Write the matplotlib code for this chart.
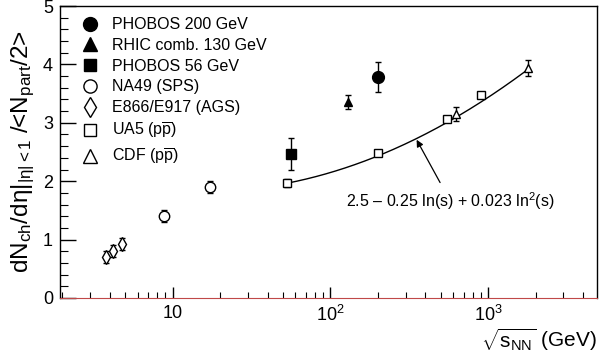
"""dN/deta per participant pair vs sqrt(s_NN): AA data against pp/ppbar fit."""

import numpy as np
import matplotlib
matplotlib.use("Agg")
import matplotlib.pyplot as plt
from matplotlib.lines import Line2D

plt.rcParams['font.family'] = ['Liberation Sans', 'DejaVu Sans']
plt.rcParams['mathtext.fontset'] = 'custom'
plt.rcParams['mathtext.rm'] = 'Liberation Sans'
plt.rcParams['mathtext.it'] = 'Liberation Sans:italic'
plt.rcParams['mathtext.sf'] = 'Liberation Sans'

# ---- data ----
phobos200_x, phobos200_y, phobos200_e = [200], [3.78], [0.26]
rhic130_x, rhic130_y, rhic130_e = [130], [3.36], [0.12]
phobos56_x, phobos56_y, phobos56_e = [56], [2.47], [0.27]
na49_x = [8.8, 17.2]
na49_y = [1.40, 1.90]
na49_e = [0.10, 0.10]
ags_x = [3.8, 4.2, 4.8]
ags_y = [0.70, 0.81, 0.92]
ags_e = [0.10, 0.10, 0.10]
ua5_x = [53, 200, 546, 900]
ua5_y = [1.97, 2.48, 3.06, 3.48]
ua5_e = [0.07, 0.05, 0.05, 0.05]
cdf_x = [630, 1800]
cdf_y = [3.15, 3.94]
cdf_e = [0.12, 0.13]

# fit curve quoted in the figure
fit_a, fit_b, fit_c = 2.5, -0.25, 0.023
fit_range = (53, 1800)

fig, ax = plt.subplots(figsize=(6.0, 3.56), dpi=100)
fig.subplots_adjust(left=0.1, right=0.995, bottom=0.163, top=0.983)

xs = np.logspace(np.log10(fit_range[0]), np.log10(fit_range[1]), 200)
lns = np.log(xs ** 2)
ax.plot(xs, fit_a + fit_b * lns + fit_c * lns ** 2, color="black", lw=1.0, zorder=2)

eb = dict(ls="none", ecolor="black", elinewidth=1.0, capsize=2.5, capthick=1.0,
          mec="black", mew=1.0, zorder=3)
ax.errorbar(ags_x, ags_y, yerr=ags_e, marker="d", ms=7, mfc="white", **eb)
ax.errorbar(na49_x, na49_y, yerr=na49_e, marker="o", ms=7.5, mfc="white", **eb)
ax.errorbar(ua5_x, ua5_y, yerr=ua5_e, marker="s", ms=6, mfc="white", **eb)
ax.errorbar(cdf_x, cdf_y, yerr=cdf_e, marker="^", ms=6, mfc="white", **eb)
ax.errorbar(phobos200_x, phobos200_y, yerr=phobos200_e, marker="o", ms=8.5, mfc="black", **eb)
ax.errorbar(rhic130_x, rhic130_y, yerr=rhic130_e, marker="^", ms=6, mfc="black", **eb)
ax.errorbar(phobos56_x, phobos56_y, yerr=phobos56_e, marker="s", ms=7, mfc="black", **eb)

ax.set_xscale("log")
ax.set_xlim(1.93, 4900)
ax.set_ylim(0, 5)

# ticks: inside, ROOT-like
ax.set_xticks([10, 100, 1000])
ax.set_xticklabels(["10", r"$10^2$", r"$10^3$"])
ax.set_xticks([v * d for d in (1, 10, 100, 1000) for v in range(2, 10) if 1.93 < v * d < 4900], minor=True)
ax.set_yticks(range(6))
ax.set_yticks(np.arange(0, 5.01, 0.2), minor=True)
ax.tick_params(axis="both", which="both", direction="in", top=False, right=False,
               labelsize=13, pad=5)
ax.tick_params(axis="y", which="major", length=11.5, width=1.0)
ax.tick_params(axis="y", which="minor", length=6, width=0.8)
ax.tick_params(axis="x", which="major", length=8, width=1.0)
ax.tick_params(axis="x", which="minor", length=4, width=0.8)
for s in ax.spines.values():
    s.set_linewidth(1.0)
ax.spines["bottom"].set_color("#c04848")
ax.spines["bottom"].set_linewidth(0.8)

ax.set_ylabel(r"dN$_{\mathrm{ch}}$/d$\mathrm{\eta}|_{|\mathrm{\eta}|<1}$ /<N$_{\mathrm{part}}$/2>",
              fontsize=17.5, labelpad=4)
ax.set_xlabel(r"$\sqrt{\mathrm{s}_{\mathrm{NN}}}$ (GeV)", fontsize=15, loc="right", labelpad=1)

ax.annotate(r"2.5 – 0.25 ln(s) + 0.023 ln$^2$(s)", xy=(352, 2.71), xytext=(575, 1.66),
            fontsize=11.5, ha="center", va="center",
            arrowprops=dict(arrowstyle="-|>", color="black", lw=0.9, shrinkA=4, shrinkB=0,
                            mutation_scale=10))

handles = [
    Line2D([], [], ls="none", marker="o", ms=10, mfc="black", mec="black"),
    Line2D([], [], ls="none", marker="^", ms=9.5, mfc="black", mec="black"),
    Line2D([], [], ls="none", marker="s", ms=9, mfc="black", mec="black"),
    Line2D([], [], ls="none", marker="o", ms=9.5, mfc="white", mec="black", mew=1.0),
    Line2D([], [], ls="none", marker="d", ms=10, mfc="white", mec="black", mew=1.0),
    Line2D([], [], ls="none", marker="s", ms=9, mfc="white", mec="black", mew=1.0),
    Line2D([], [], ls="none", marker="^", ms=9.5, mfc="white", mec="black", mew=1.0),
]
labels = ["PHOBOS 200 GeV", "RHIC comb. 130 GeV", "PHOBOS 56 GeV", "NA49 (SPS)",
          "E866/E917 (AGS)", r"UA5 (p$\overline{\mathrm{p}}$)", r"CDF (p$\overline{\mathrm{p}}$)"]
ax.legend(handles, labels, loc="upper left", bbox_to_anchor=(0.02, 0.995), frameon=False,
          fontsize=11.5, labelspacing=0.36, handletextpad=0.8, handlelength=1.2,
          borderaxespad=0.2)

fig.savefig("out.png", dpi=100)
